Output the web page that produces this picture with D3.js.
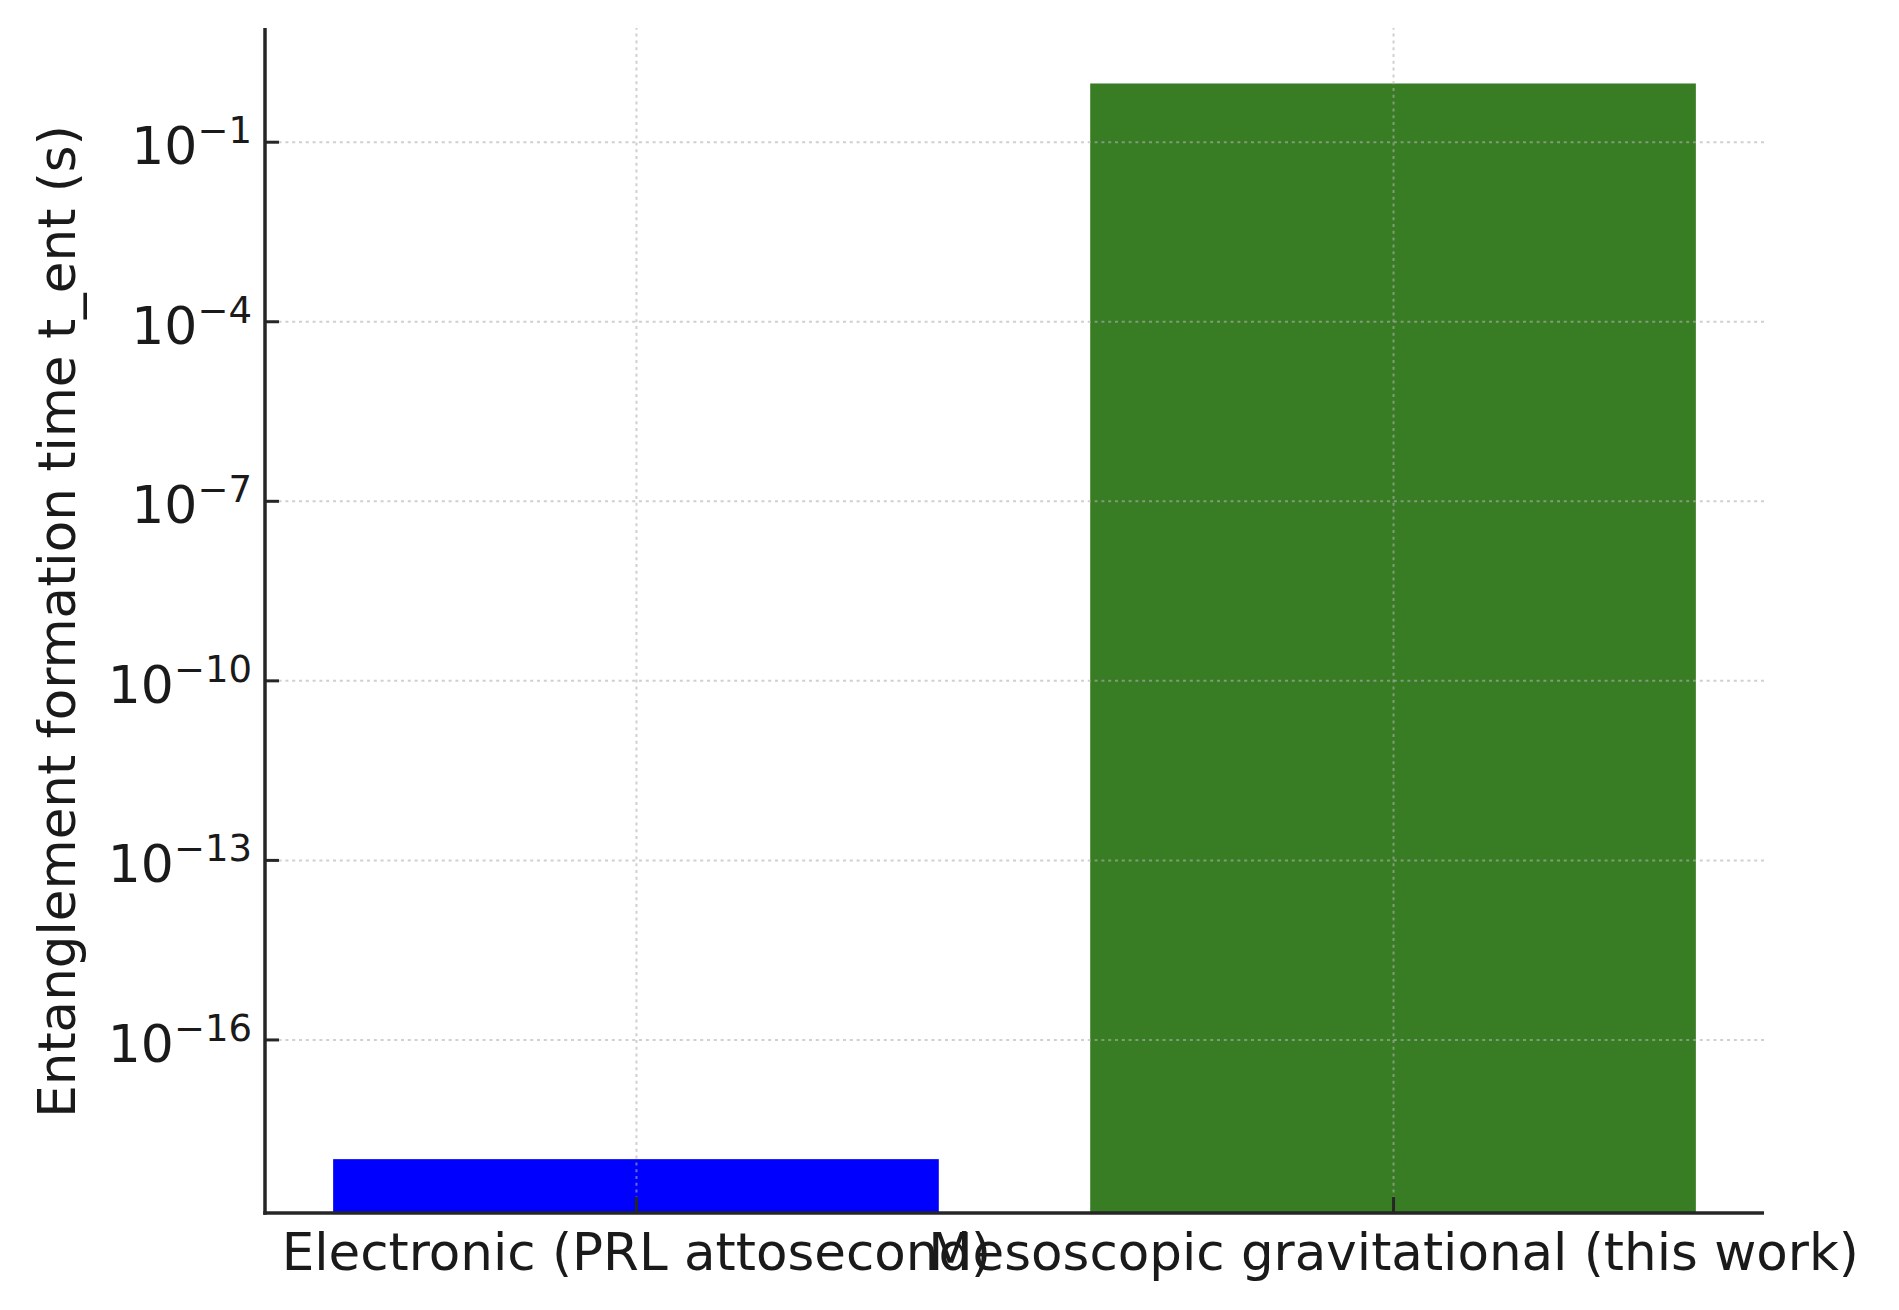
<!DOCTYPE html>
<html>
<head>
<meta charset="utf-8">
<script src="https://cdn.jsdelivr.net/npm/d3@7"></script>
<style>
  html, body { margin: 0; padding: 0; background: #ffffff; }
  svg { display: block; font-family: "DejaVu Sans", sans-serif; }
</style>
</head>
<body>
<svg id="chart" width="1899" height="1310"></svg>
<script>
// ---- data ----
const categories = ["Electronic (PRL attosecond)", "Mesoscopic gravitational (this work)"];
const values = [1e-18, 0.94];
const barColors = ["#0000ff", "#387d23"];
const yTickExponents = [-1, -4, -7, -10, -13, -16];
const yLabel = "Entanglement formation time t_ent (s)";

// ---- layout ----
const W = 1899, H = 1310;
const plot = { left: 265, right: 1764, top: 28, bottom: 1213 };
const svg = d3.select("#chart");

const x = d3.scaleLinear().domain([-0.49, 1.49]).range([plot.left, plot.right]);
const y = d3.scaleLog().domain([Math.pow(10, -18.9), Math.pow(10, 0.9)]).range([plot.bottom, plot.top]);
const barWidth = 0.8;
const yTickValues = yTickExponents.map(e => Math.pow(10, e));
const xTickValues = categories.map((c, i) => i);

// bars
svg.append("g").selectAll("rect")
  .data(values)
  .join("rect")
  .attr("x", (d, i) => x(i - barWidth / 2))
  .attr("width", (d, i) => x(i + barWidth / 2) - x(i - barWidth / 2))
  .attr("y", d => y(d))
  .attr("height", d => plot.bottom - y(d))
  .attr("fill", (d, i) => barColors[i]);

// grid lines
const gridStyle = g => {
  g.select(".domain").remove();
  g.selectAll(".tick line")
    .attr("stroke", "#b0b0b0")
    .attr("stroke-opacity", 0.6)
    .attr("stroke-width", 2)
    .attr("stroke-dasharray", "3,3.8");
  g.selectAll(".tick text").remove();
};
svg.append("g")
  .attr("transform", `translate(${plot.left},0)`)
  .call(d3.axisLeft(y).tickValues(yTickValues).tickSize(-(plot.right - plot.left)).tickFormat(""))
  .call(gridStyle);
svg.append("g")
  .attr("transform", `translate(0,${plot.bottom})`)
  .call(d3.axisBottom(x).tickValues(xTickValues).tickSize(-(plot.bottom - plot.top)).tickFormat(""))
  .call(gridStyle);

// y axis
const yAxis = svg.append("g")
  .attr("transform", `translate(${plot.left},0)`)
  .call(d3.axisLeft(y).tickValues(yTickValues).tickSize(-14).tickFormat(""));
yAxis.select(".domain").remove();
yAxis.selectAll(".tick line").attr("stroke", "#262626").attr("stroke-width", 3);
yAxis.selectAll(".tick").each(function(d) {
  const exp = Math.round(Math.log10(d));
  const t = d3.select(this).append("text")
    .attr("x", -13)
    .attr("y", 22)
    .attr("text-anchor", "end")
    .attr("fill", "#1a1a1a")
    .attr("font-size", 52)
    .attr("font-family", "DejaVu Sans");
  t.append("tspan").text("10");
  t.append("tspan").attr("font-size", 37).attr("dy", -21).text("\u2212" + Math.abs(exp));
});

// x axis
const xAxis = svg.append("g")
  .attr("transform", `translate(0,${plot.bottom})`)
  .call(d3.axisBottom(x).tickValues(xTickValues).tickSize(-16).tickFormat(i => categories[i]));
xAxis.select(".domain").remove();
xAxis.selectAll(".tick line").attr("stroke", "#262626").attr("stroke-width", 3);
xAxis.selectAll(".tick text")
  .attr("y", 57)
  .attr("dy", 0)
  .attr("fill", "#1a1a1a")
  .attr("font-size", 51.5)
  .attr("font-family", "DejaVu Sans");

// spines
svg.append("line")
  .attr("x1", plot.left).attr("x2", plot.left)
  .attr("y1", plot.top).attr("y2", plot.bottom + 1.75)
  .attr("stroke", "#262626").attr("stroke-width", 3.5);
svg.append("line")
  .attr("x1", plot.left - 1.75).attr("x2", plot.right)
  .attr("y1", plot.bottom).attr("y2", plot.bottom)
  .attr("stroke", "#262626").attr("stroke-width", 3.5);

// y label
svg.append("text")
  .attr("transform", `translate(75,${(plot.top + plot.bottom) / 2 + 1}) rotate(-90)`)
  .attr("text-anchor", "middle")
  .attr("fill", "#1a1a1a")
  .attr("font-size", 51.5)
  .attr("font-family", "DejaVu Sans")
  .text(yLabel);
</script>
</body>
</html>
